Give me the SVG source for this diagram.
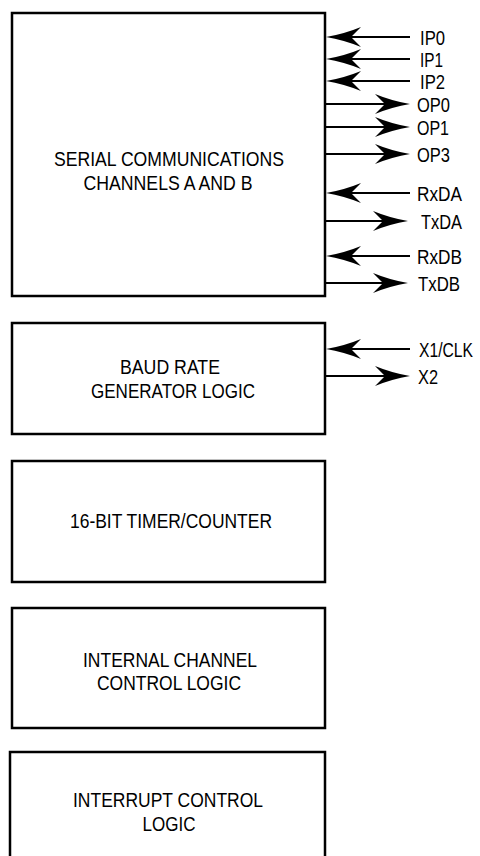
<svg xmlns="http://www.w3.org/2000/svg" width="480" height="856" viewBox="0 0 480 856">
<style>
.box{fill:#fff;stroke:#000;stroke-width:2.5}
.t{font-family:"Liberation Sans",Arial,sans-serif;font-size:21px;fill:#000;text-anchor:middle}
.l{font-family:"Liberation Sans",Arial,sans-serif;font-size:21px;fill:#000}
.w{stroke:#000;stroke-width:2;fill:none}
</style>
<defs>
<marker id="ah" viewBox="-11 -11 36 22" refX="0" refY="0" markerWidth="36" markerHeight="22" markerUnits="userSpaceOnUse" orient="auto">
<path d="M25,0 Q7,-3 -10,-10 L0,0 L-10,10 Q7,3 25,0 Z" fill="#000"/>
</marker>
</defs>
<rect width="480" height="856" fill="#fff"/>
<g id="serial">
<rect class="box" x="12" y="13" width="313" height="283"/>
<text class="t" x="169" y="166" textLength="230" lengthAdjust="spacingAndGlyphs">SERIAL COMMUNICATIONS</text>
<text class="t" x="168" y="190" textLength="169" lengthAdjust="spacingAndGlyphs">CHANNELS A AND B</text>
</g>
<g id="baud">
<rect class="box" x="12" y="323" width="313" height="111"/>
<text class="t" x="170" y="374" textLength="100" lengthAdjust="spacingAndGlyphs">BAUD RATE</text>
<text class="t" x="173" y="398" textLength="164" lengthAdjust="spacingAndGlyphs">GENERATOR LOGIC</text>
</g>
<g id="timer">
<rect class="box" x="12" y="461" width="313" height="121"/>
<text class="t" x="171" y="528" textLength="202" lengthAdjust="spacingAndGlyphs">16-BIT TIMER/COUNTER</text>
</g>
<g id="channel">
<rect class="box" x="12" y="608" width="313" height="120"/>
<text class="t" x="170" y="667" textLength="174" lengthAdjust="spacingAndGlyphs">INTERNAL CHANNEL</text>
<text class="t" x="169" y="690" textLength="144" lengthAdjust="spacingAndGlyphs">CONTROL LOGIC</text>
</g>
<g id="interrupt">
<rect class="box" x="10" y="752" width="315" height="130"/>
<text class="t" x="168" y="807" textLength="190" lengthAdjust="spacingAndGlyphs">INTERRUPT CONTROL</text>
<text class="t" x="169" y="831" textLength="53" lengthAdjust="spacingAndGlyphs">LOGIC</text>
</g>
<g id="connectors">
<line class="w" x1="410" y1="37" x2="351" y2="37" marker-end="url(#ah)"/>
<line class="w" x1="410" y1="59" x2="351" y2="59" marker-end="url(#ah)"/>
<line class="w" x1="410" y1="81" x2="351" y2="81" marker-end="url(#ah)"/>
<line class="w" x1="325" y1="104" x2="385" y2="104" marker-end="url(#ah)"/>
<line class="w" x1="325" y1="127" x2="385" y2="127" marker-end="url(#ah)"/>
<line class="w" x1="325" y1="154" x2="385" y2="154" marker-end="url(#ah)"/>
<line class="w" x1="410" y1="193" x2="351" y2="193" marker-end="url(#ah)"/>
<line class="w" x1="325" y1="221" x2="383" y2="221" marker-end="url(#ah)"/>
<line class="w" x1="410" y1="256" x2="351" y2="256" marker-end="url(#ah)"/>
<line class="w" x1="325" y1="283" x2="383" y2="283" marker-end="url(#ah)"/>
<line class="w" x1="410" y1="349" x2="351" y2="349" marker-end="url(#ah)"/>
<line class="w" x1="325" y1="376" x2="385" y2="376" marker-end="url(#ah)"/>
</g>
<g id="labels">
<text class="l" x="420" y="45" textLength="25" lengthAdjust="spacingAndGlyphs">IP0</text>
<text class="l" x="420" y="67" textLength="23" lengthAdjust="spacingAndGlyphs">IP1</text>
<text class="l" x="420" y="89" textLength="25" lengthAdjust="spacingAndGlyphs">IP2</text>
<text class="l" x="417" y="112" textLength="33" lengthAdjust="spacingAndGlyphs">OP0</text>
<text class="l" x="417" y="135" textLength="32" lengthAdjust="spacingAndGlyphs">OP1</text>
<text class="l" x="417" y="162" textLength="33" lengthAdjust="spacingAndGlyphs">OP3</text>
<text class="l" x="417" y="201" textLength="45" lengthAdjust="spacingAndGlyphs">RxDA</text>
<text class="l" x="421" y="229" textLength="41" lengthAdjust="spacingAndGlyphs">TxDA</text>
<text class="l" x="417" y="264" textLength="45" lengthAdjust="spacingAndGlyphs">RxDB</text>
<text class="l" x="418" y="291" textLength="42" lengthAdjust="spacingAndGlyphs">TxDB</text>
<text class="l" x="419" y="357" textLength="54" lengthAdjust="spacingAndGlyphs">X1/CLK</text>
<text class="l" x="418" y="384" textLength="20" lengthAdjust="spacingAndGlyphs">X2</text>
</g>
</svg>
